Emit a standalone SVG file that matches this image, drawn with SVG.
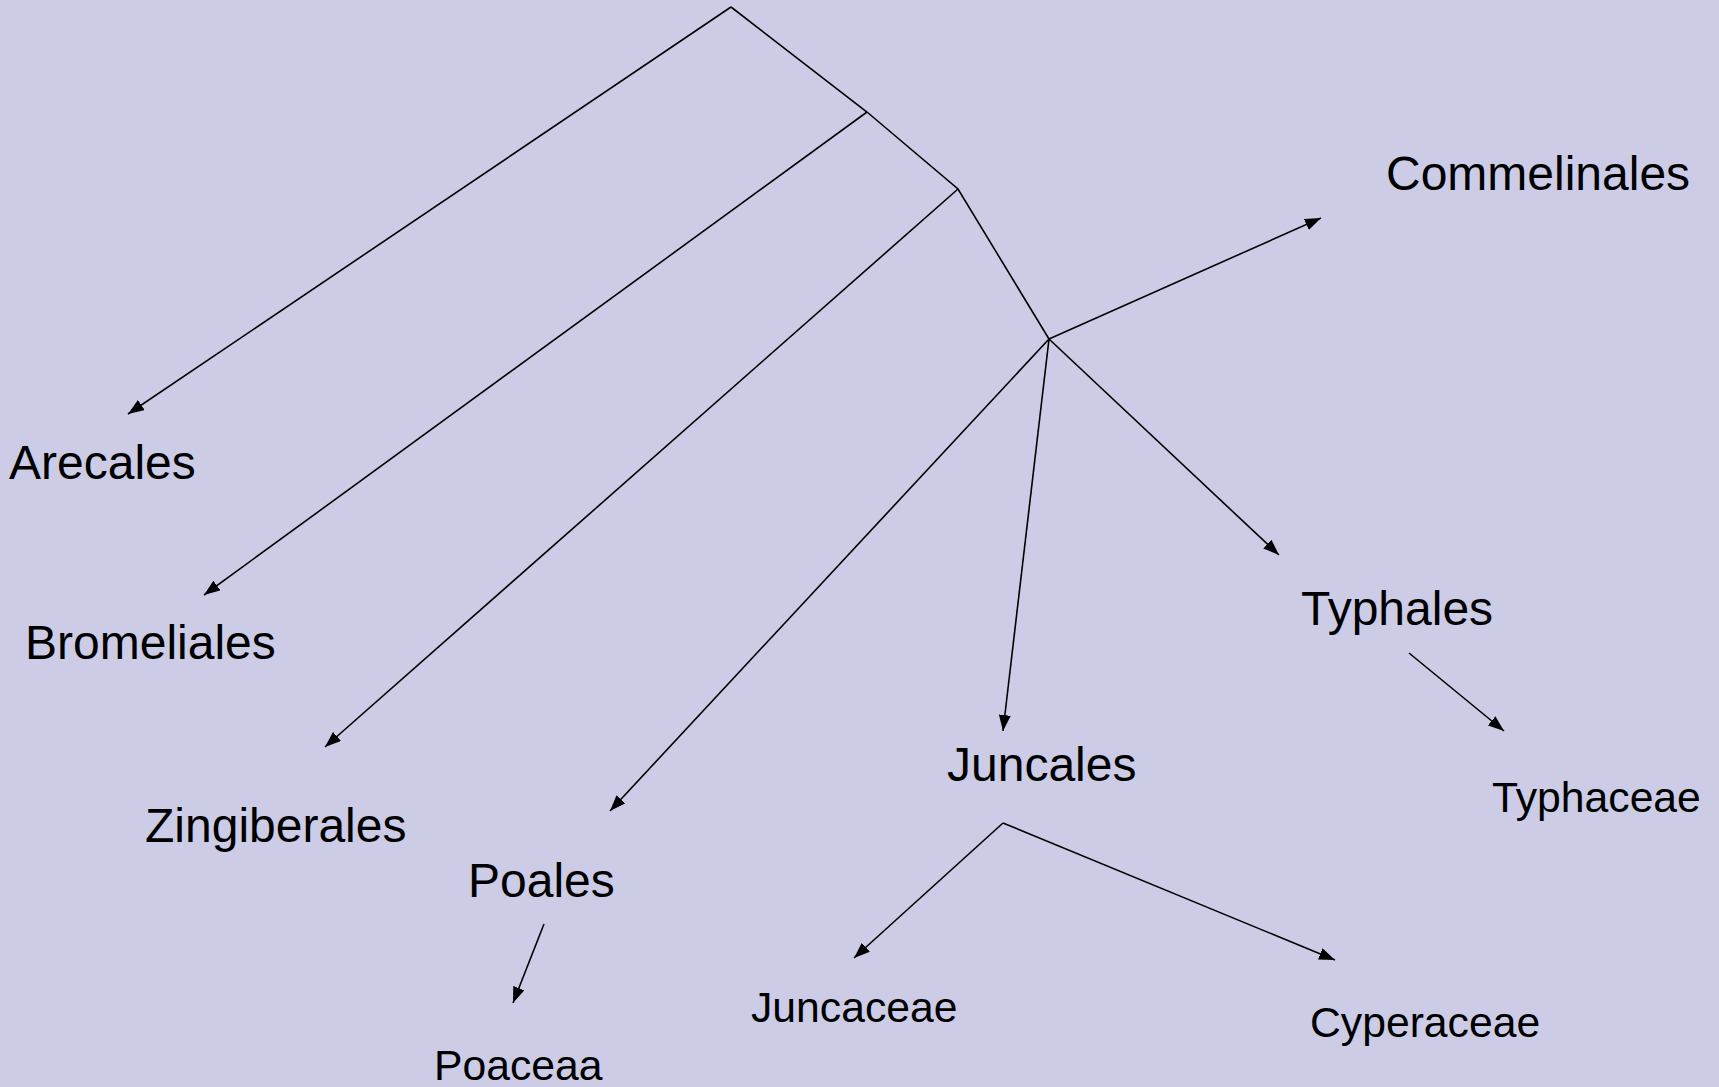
<svg xmlns="http://www.w3.org/2000/svg" width="1719" height="1087" viewBox="0 0 1719 1087">
<defs>
<marker id="arr" viewBox="0 0 16 12" refX="16" refY="6" markerWidth="16" markerHeight="12" markerUnits="userSpaceOnUse" orient="auto">
<path d="M0,0 L16,6 L0,12 z" fill="#000"/>
</marker>
</defs>
<style>
.bg{fill:#CCCCE6}
.e{stroke:#000;stroke-width:1.6;fill:none}
.a{marker-end:url(#arr)}
.big{font-family:"Liberation Sans",Arial,sans-serif;font-size:48px;fill:#000}
.sm{font-family:"Liberation Sans",Arial,sans-serif;font-size:42.7px;fill:#000}
</style>
<rect class="bg" x="0" y="0" width="1719" height="1087"/>
<g id="connectors">
<polyline class="e" points="731,7 867,112 958,189 1049,339"/>
<line class="e a" x1="731" y1="7" x2="128" y2="414"/>
<line class="e a" x1="867" y1="112" x2="204" y2="595"/>
<line class="e a" x1="958" y1="189" x2="325" y2="747"/>
<line class="e a" x1="1049" y1="339" x2="610" y2="811"/>
<line class="e a" x1="1049" y1="339" x2="1003" y2="731"/>
<line class="e a" x1="1049" y1="339" x2="1279" y2="555"/>
<line class="e a" x1="1049" y1="339" x2="1321" y2="218"/>
<line class="e a" x1="1409" y1="653" x2="1504" y2="731"/>
<line class="e a" x1="1003" y1="823" x2="854" y2="958"/>
<line class="e a" x1="1003" y1="823" x2="1335" y2="960"/>
<line class="e a" x1="544" y1="924" x2="513" y2="1003"/>
</g>
<g id="arecales"><text class="big" x="9" y="479">Arecales</text></g>
<g id="bromeliales"><text class="big" x="25" y="659">Bromeliales</text></g>
<g id="zingiberales"><text class="big" x="145" y="842">Zingiberales</text></g>
<g id="poales"><text class="big" x="468" y="897">Poales</text></g>
<g id="juncales"><text class="big" x="947" y="781">Juncales</text></g>
<g id="typhales"><text class="big" x="1301" y="625">Typhales</text></g>
<g id="commelinales"><text class="big" x="1386" y="190">Commelinales</text></g>
<g id="typhaceae"><text class="sm" x="1492" y="812">Typhaceae</text></g>
<g id="juncaceae"><text class="sm" x="751" y="1022">Juncaceae</text></g>
<g id="cyperaceae"><text class="sm" x="1310" y="1037">Cyperaceae</text></g>
<g id="poaceaa"><text class="sm" x="434" y="1080">Poaceaa</text></g>
</svg>
